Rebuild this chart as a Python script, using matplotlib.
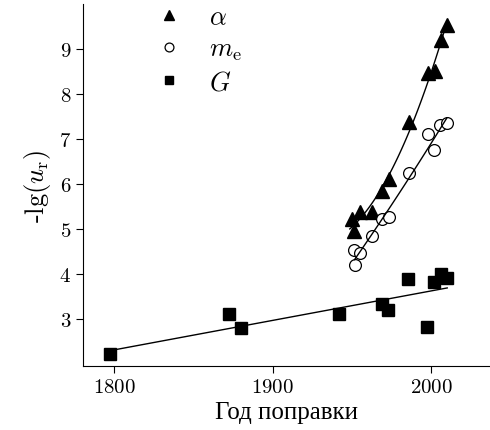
import numpy as np
import matplotlib
matplotlib.use("Agg")
import matplotlib.pyplot as plt

plt.rcParams['font.family'] = ['cmr10', 'DejaVu Serif']
plt.rcParams['mathtext.fontset'] = 'cm'
plt.rcParams['axes.unicode_minus'] = False
plt.rcParams['axes.formatter.use_mathtext'] = True

# alpha
alpha_year = [1950, 1951.3, 1955, 1962.6, 1969, 1973.2, 1985.9, 1997.7, 2002.3, 2006, 2009.7]
alpha_val = [5.22, 4.95, 5.39, 5.39, 5.84, 6.11, 7.38, 8.48, 8.51, 9.21, 9.53]

# electron mass
me_year = [1951, 1952, 1955, 1962.6, 1968.9, 1973.2, 1985.9, 1997.7, 2001.7, 2005.6, 2009.7]
me_val = [4.54, 4.20, 4.47, 4.85, 5.22, 5.28, 6.24, 7.11, 6.76, 7.32, 7.37]

# G
g_year = [1797.3, 1872, 1880, 1942, 1969, 1972.7, 1985, 1997.4, 2001.8, 2006, 2010]
g_val = [2.22, 3.11, 2.80, 3.11, 3.33, 3.20, 3.89, 2.82, 3.82, 4.00, 3.91]

fig = plt.figure(figsize=(4.9, 4.31), dpi=100)
ax = fig.add_axes([0.169, 0.1485, 0.831, 0.8395])

ms = 8.5
h1, = ax.plot(alpha_year, alpha_val, '^', color='black', ms=ms + 1, label=r'$\alpha$')
h2, = ax.plot(me_year, me_val, 'o', mfc='white', mec='black', mew=0.9, ms=ms, label=r'$m_\mathrm{e}$')
h3, = ax.plot(g_year, g_val, 's', color='black', ms=ms - 0.5, label=r'$G$')

# fit lines
xa = np.linspace(1948.5, 2009.7, 100)
ax.plot(xa, np.polyval(np.polyfit(alpha_year, alpha_val, 2), xa), color='black', lw=1)
xm = np.linspace(1951.5, 2009.7, 100)
ax.plot(xm, np.polyval(np.polyfit(me_year, me_val, 2), xm), color='black', lw=1)
xg = np.linspace(1797.3, 2010, 10)
ax.plot(xg, np.polyval(np.polyfit(g_year, g_val, 1), xg), color='black', lw=1)

ax.set_xlim(1780, 2037)
ax.set_ylim(1.96, 10)
ax.set_xticks([1800, 1900, 2000])
ax.set_yticks([3, 4, 5, 6, 7, 8, 9])
ax.spines['top'].set_visible(False)
ax.spines['right'].set_visible(False)
ax.tick_params(direction='out', length=5, width=0.8, labelsize=15)

ax.set_xlabel('Год поправки', fontsize=18, family=['Liberation Serif'])
ax.set_ylabel(r'-lg$(u_\mathrm{r})$', fontsize=19)

ax.legend(handles=[h1, h2, h3], loc='upper left', bbox_to_anchor=(0.122, 1.062),
          frameon=False, fontsize=19, markerscale=0.75, handlelength=1.0,
          handletextpad=1.0, labelspacing=0.3)

fig.savefig('out.png', dpi=100)
